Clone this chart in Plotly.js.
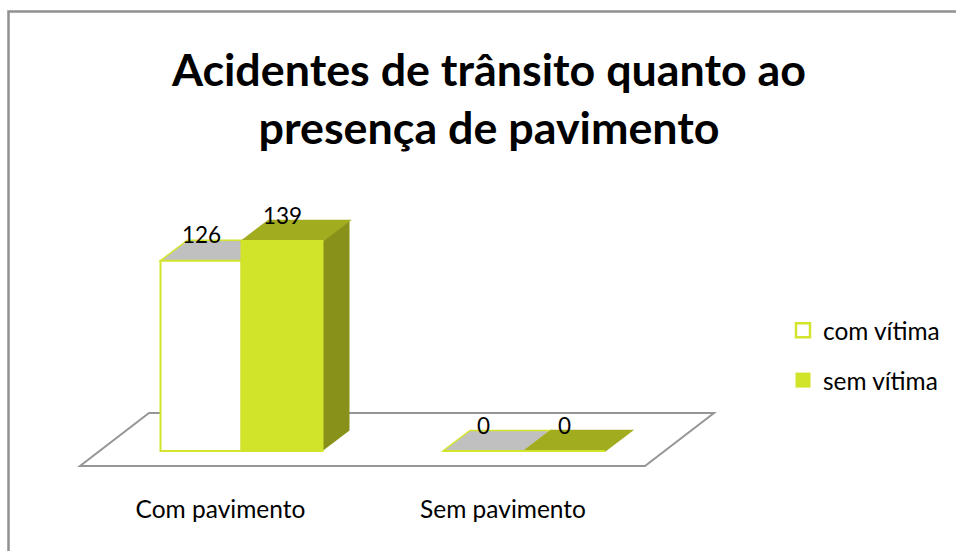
<!DOCTYPE html>
<html><head><meta charset="utf-8">
<script src="https://cdn.plot.ly/plotly-3.0.1.min.js"></script>
<style>html,body{margin:0;padding:0;background:#fff;overflow:hidden}</style>
</head><body><div id="chart" style="width:956px;height:551px"></div>
<script>
const categories = ["Com pavimento", "Sem pavimento"];
const seriesNames = ["com vítima", "sem vítima"];
const comVitima = [126, 0];
const semVitima = [139, 0];
const chartTitle = "Acidentes de trânsito quanto ao<br>presença de pavimento";

const W = 956, H = 551;
const plot = {l: 60, r: 950, t: 190, b: 492};
const pxPerCat = 282.5, pxPerUnit = 210 / 139;
const x0px = 241.5, y0px = 451;
const toDX = p => p / pxPerCat, toDY = p => p / pxPerUnit;
const xRange = [(plot.l - x0px) / pxPerCat, (plot.r - x0px) / pxPerCat];
const yRange = [(y0px - plot.b) / pxPerUnit, (y0px - plot.t) / pxPerUnit];
const barW = toDX(81), depthX = toDX(27), depthY = toDY(20.5);
const xs = categories.map((_, i) => i);
const xpos = (i, s) => i + (s === 0 ? -barW / 2 : barW / 2);
const poly = pts => "M" + pts.map(p => p[0] + "," + p[1]).join("L") + "Z";

const series = [
  {vals: comVitima, front: "#ffffff", line: "#d3e42c", top: "#c0c0c0", topLine: "#d3e42c", side: null},
  {vals: semVitima, front: "#d1e42a", line: "#d1e42a", top: "#a2ac1f", topLine: "#a2ac1f", side: "#88921a"}
];

const shapes = [];
// frame
const fx = p => (p - plot.l) / (plot.r - plot.l), fy = p => (plot.b - p) / (plot.b - plot.t);
shapes.push({type: "rect", xref: "paper", yref: "paper", x0: fx(8.5), x1: fx(970), y0: fy(11.5), y1: fy(570),
  line: {color: "#909090", width: 2.5}, fillcolor: "rgba(0,0,0,0)", layer: "below"});
// floor
const fl = toDX(-161.5), fr = toDX(403.5), ff = toDY(-15), fb = toDY(38);
shapes.push({type: "path", xref: "x", yref: "y", layer: "below", fillcolor: "#ffffff",
  line: {color: "#969696", width: 2},
  path: poly([[fl, ff], [fr, ff], [fr + toDX(69), fb], [fl + toDX(69), fb]])});
// tops and sides, derived from the data
series.forEach((s, si) => {
  s.vals.forEach((v, i) => {
    const c = xpos(i, si), a = c - barW / 2, b = c + barW / 2;
    if (s.side) shapes.push({type: "path", xref: "x", yref: "y", layer: "below", fillcolor: s.side,
      line: {width: 0}, path: poly([[b, 0], [b + depthX, depthY], [b + depthX, v + depthY], [b, v]])});
    shapes.push({type: "path", xref: "x", yref: "y", layer: "below", fillcolor: s.top,
      line: {color: s.topLine, width: 1.5},
      path: poly([[a, v], [b, v], [b + depthX, v + depthY], [a + depthX, v + depthY]])});
  });
});

const traces = series.map((s, si) => ({
  type: "bar", x: xs.map(i => xpos(i, si)), y: s.vals, width: barW,
  marker: {color: s.front, line: {color: s.line, width: 2}},
  showlegend: false, hoverinfo: "skip", cliponaxis: false
}));
// legend keys
series.forEach((s, si) => traces.push({
  type: "scatter", mode: "markers", x: [null], y: [null], name: seriesNames[si],
  legendgroup: seriesNames[si],
  marker: {symbol: "square", size: si === 0 ? 14 : 15, color: s.front, line: {color: s.line, width: si === 0 ? 2.5 : 0}}
}));

const annotations = [];
series.forEach((s, si) => s.vals.forEach((v, i) => annotations.push({
  x: xpos(i, si), y: v, xref: "x", yref: "y", text: String(v), showarrow: false,
  xanchor: "center", yanchor: "middle", yshift: 26,
  font: {family: "Lato, sans-serif", size: 22.5, color: "#000"}
})));

const layout = {
  width: W, height: H, autosize: false, paper_bgcolor: "#fff", plot_bgcolor: "rgba(0,0,0,0)",
  margin: {l: plot.l, r: W - plot.r, t: plot.t, b: H - plot.b, pad: 0},
  title: {text: chartTitle, x: 489 / W, xanchor: "center", y: 1 - 86 / H, yanchor: "middle",
    font: {family: "Lato, sans-serif", size: 44.8, color: "#000", weight: 700}},
  barmode: "overlay", showlegend: true,
  legend: {x: fx(783), y: fy(308), xanchor: "left", yanchor: "top", traceorder: "grouped", tracegroupgap: 15,
    font: {family: "Lato, sans-serif", size: 24.4, color: "#000"}, itemclick: false, bgcolor: "rgba(0,0,0,0)"},
  xaxis: {range: xRange, tickmode: "array", tickvals: xs.map(i => i - toDX(21)), ticktext: categories,
    showgrid: false, zeroline: false, showline: false, ticks: "", fixedrange: true,
    tickfont: {family: "Lato, sans-serif", size: 24.5, color: "#000"}},
  yaxis: {range: yRange, visible: false, fixedrange: true},
  shapes, annotations
};
Plotly.newPlot("chart", traces, layout, {displayModeBar: false, staticPlot: true});
</script></body></html>
